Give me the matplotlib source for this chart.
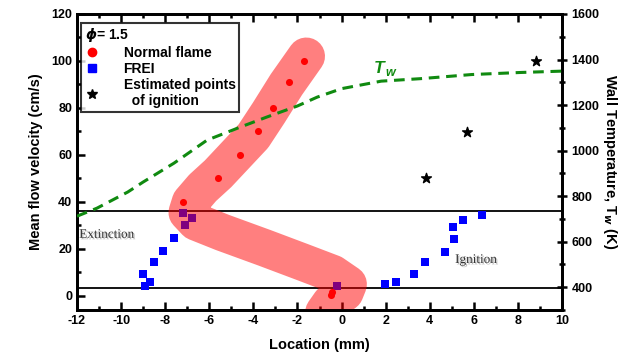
import matplotlib
matplotlib.use("Agg")
import matplotlib.pyplot as plt
import matplotlib.patheffects as pe
from matplotlib.ticker import MultipleLocator
from matplotlib.lines import Line2D

plt.rcParams['font.family'] = ['Liberation Sans', 'DejaVu Sans']
plt.rcParams['font.weight'] = 'bold'
plt.rcParams['axes.unicode_minus'] = False

# Normal flame (red)
normal_x = [-1.7, -2.4, -3.1, -3.8, -4.6, -5.6, -7.2, -0.45, -0.5]
normal_v = [100, 91, 80, 70, 60, 50, 40, 1.8, 0.3]

# FREI (blue)
frei_x = [-7.2, -6.8, -7.1, -7.6, -8.1, -8.5, -9.0, -8.7, -8.9,
          -0.2, 1.95, 2.45, 3.27, 3.8, 4.7, 5.1, 5.05, 5.5, 6.36]
frei_v = [35.3, 33.0, 30.2, 24.5, 19.2, 14.5, 9.5, 6.0, 4.3,
          4.3, 5.1, 6.0, 9.4, 14.5, 18.7, 24.3, 29.4, 32.3, 34.5]

# Estimated ignition points (right axis, K)
ign_x = [3.85, 5.7, 8.8]
ign_T = [879, 1081, 1393]

# Wall temperature Tw (right axis, K)
tw_x = [-12, -11.1, -9.7, -9.0, -7.6, -6.1, -4.6, -3.4, -2.0, -1.1, 0, 1.8, 3.6, 5.9, 8.1, 10]
tw_T = [712, 747, 818, 862, 945, 1046, 1103, 1147, 1196, 1235, 1272, 1305, 1316, 1334, 1343, 1349]

# Highlight band centreline
band_x = [-1.6, -2.5, -3.3, -4.0, -4.8, -5.6, -6.3, -6.85, -7.0, -6.6, -5.4, -3.5, -1.8, -0.4, 0.3, 0.15, -0.5, -0.8]
band_v = [102, 90, 78, 68, 60, 52, 46, 40, 35.5, 31.5, 27, 20.5, 14.5, 9.5, 5.0, 1.5, -3, -7]

# Reference lines (extinction / ignition levels)
hlines_v = [36.2, 3.4]

fig = plt.figure(figsize=(6.39, 3.58), dpi=100)
ax = fig.add_axes([0.1205, 0.134, 0.759, 0.827])
ax2 = ax.twinx()

ax.set_xlim(-12, 10)
ax.set_ylim(-6, 120)
ax2.set_ylim(300, 1600)

for v in hlines_v:
    ax.axhline(v, color='black', lw=1.3, zorder=2)

ax.scatter(frei_x, frei_v, marker='s', s=38, color='#0000ff', zorder=3, linewidths=0)
ax.plot(band_x, band_v, color='red', alpha=0.5, lw=27, solid_capstyle='round',
        solid_joinstyle='round', zorder=4)
ax.scatter(normal_x, normal_v, marker='o', s=26, color='#ff0000', zorder=5, linewidths=0)

ax2.plot(tw_x, tw_T, color='#108a10', lw=2.2, ls=(0, (3.5, 2.2)), zorder=3)
ax2.scatter(ign_x, ign_T, marker='*', s=55, color='black', zorder=5)
ax2.text(1.45, 1362, 'T', color='#108a10', fontsize=12.5,
         fontstyle='italic', fontweight='bold', ha='left', va='center')
ax2.text(2.0, 1340, 'w', color='#108a10', fontsize=9,
         fontstyle='italic', fontweight='bold', ha='left', va='center')

shadow = [pe.withSimplePatchShadow(offset=(1, -1), shadow_rgbFace='#aaaaaa', alpha=0.8)]
ax.text(-11.9, 26, 'Extinction', family='Liberation Serif', fontweight='normal', fontsize=9.5,
        color='#333333', va='center', ha='left', path_effects=shadow)
ax.text(5.15, 15.3, 'Ignition', family='Liberation Serif', fontweight='normal', fontsize=9.5,
        color='#333333', va='center', ha='left', path_effects=shadow)

# Legend
handles = [Line2D([], [], ls='none', marker='o', color='#ff0000', ms=6),
           Line2D([], [], ls='none', marker='s', color='#0000ff', ms=6),
           Line2D([], [], ls='none', marker='*', color='black', ms=7)]
labels = ['Normal flame', 'FREI', 'Estimated points\n  of ignition']
leg = ax.legend(handles, labels, loc='upper left', bbox_to_anchor=(0.0, 0.985),
                title=r'$\phi$= 1.5', frameon=True, fancybox=False, edgecolor='black',
                fontsize=10, handletextpad=1.8, borderpad=0.25, labelspacing=0.15,
                handlelength=1.0, borderaxespad=0.3)
leg.get_frame().set_linewidth(1.5)
leg._legend_box.align = 'left'
leg.get_title().set_fontsize(10)
leg.get_title().set_fontweight('bold')
for t in leg.get_texts():
    t.set_fontweight('bold')
leg.set_zorder(10)

ax.set_xlabel('Location (mm)', fontsize=10.5, fontweight='bold', labelpad=8)
ax.set_ylabel('Mean flow velocity (cm/s)', fontsize=10.5, fontweight='bold', labelpad=6)
ax2.set_ylabel(r'Wall Temperature, T$_w$ (K)', fontsize=10.5, fontweight='bold',
               rotation=270, labelpad=14)

ax.xaxis.set_major_locator(MultipleLocator(2))
ax.xaxis.set_minor_locator(MultipleLocator(1))
ax.yaxis.set_major_locator(MultipleLocator(20))
ax.yaxis.set_minor_locator(MultipleLocator(10))
ax2.set_yticks([400, 600, 800, 1000, 1200, 1400, 1600])
ax2.yaxis.set_minor_locator(MultipleLocator(100))

ax.tick_params(axis='both', which='both', direction='in', top=True, right=False, width=1.8, labelsize=9)
ax.tick_params(which='major', length=6)
ax.tick_params(which='minor', length=3)
ax2.tick_params(axis='y', which='both', direction='inout', width=1.8, labelsize=9)
ax2.tick_params(which='major', length=7)
ax2.tick_params(which='minor', length=5)
for lab in ax.get_xticklabels() + ax.get_yticklabels() + ax2.get_yticklabels():
    lab.set_fontweight('bold')
for sp in list(ax.spines.values()) + list(ax2.spines.values()):
    sp.set_linewidth(2)

fig.savefig('out.png', dpi=100)
